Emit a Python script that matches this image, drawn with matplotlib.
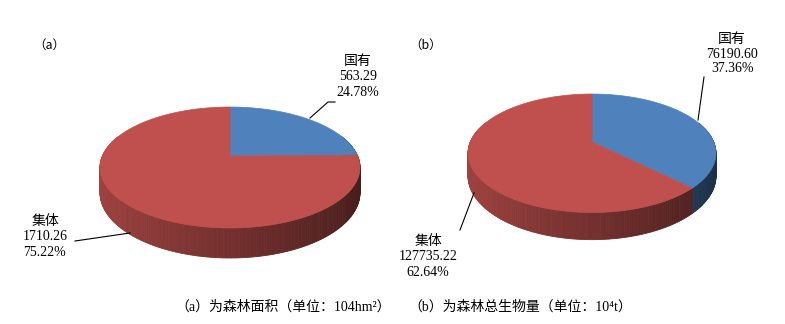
import numpy as np
import matplotlib.pyplot as plt
from matplotlib.patches import Polygon

plt.rcParams['font.family'] = ['Liberation Serif', 'Noto Sans CJK SC', 'DejaVu Serif']
plt.rcParams['font.weight'] = 'light'

# data
categories = ['国有', '集体']
area_values = [563.29, 1710.26]
area_pct = ['24.78%', '75.22%']
biomass_values = [76190.60, 127735.22]
biomass_pct = ['37.36%', '62.64%']
panel_titles = ['（a）', '（b）']
captions = ['（a）为森林面积（单位：104hm²）', '（b）为森林总生物量（单位：10⁴t）']

top_colors = ['#4F81BD', '#C0504D']


def project(u, v, drop, p):
    # simple perspective: front of the pie (v=+1) is nearer to the viewer
    w = 1 - p['k'] * v
    return p['cx'] + p['a'] * u / w, p['cy'] + (p['b'] * v + drop * p['h']) / w


def draw_pie(ax, values, p):
    vals = np.asarray(values, dtype=float)
    edges = np.concatenate([[0], np.cumsum(vals / vals.sum())]) * 2 * np.pi
    strips = []
    for i in range(len(vals)):
        n = max(int(np.degrees(edges[i + 1] - edges[i])), 2)
        t = np.linspace(edges[i], edges[i + 1], n + 1)
        for t0, t1 in zip(t[:-1], t[1:]):
            vm = -np.cos((t0 + t1) / 2)
            if vm < -0.35:
                continue
            um = np.sin((t0 + t1) / 2)
            pts = [project(np.sin(t0), -np.cos(t0), 0, p),
                   project(np.sin(t1), -np.cos(t1), 0, p),
                   project(np.sin(t1), -np.cos(t1), 1, p),
                   project(np.sin(t0), -np.cos(t0), 1, p)]
            f = 0.60 - 0.24 * um
            rgb = np.clip(np.array(plt.matplotlib.colors.to_rgb(top_colors[i])) * f, 0, 1)
            strips.append((vm, pts, rgb))
    strips.sort(key=lambda s: s[0])
    for vm, pts, rgb in strips:
        ax.add_patch(Polygon(pts, closed=True, facecolor=rgb, edgecolor=rgb, lw=0.6))
    # top face
    for i in range(len(vals)):
        t = np.linspace(edges[i], edges[i + 1], 200)
        pts = [project(0, 0, 0, p)] + [project(np.sin(a), -np.cos(a), 0, p) for a in t]
        ax.add_patch(Polygon(pts, closed=True, facecolor=top_colors[i],
                             edgecolor=top_colors[i], lw=0.5))


fig = plt.figure(figsize=(7.85, 3.24), dpi=100)
ax = fig.add_axes([0, 0, 1, 1])
ax.set_xlim(0, 785)
ax.set_ylim(324, 0)
ax.axis('off')

pie_a = dict(cx=230, cy=156, a=127.6, b=58.3, h=24.3, k=0.19)
pie_b = dict(cx=592, cy=142, a=121.7, b=57.1, h=22.0, k=0.19)
draw_pie(ax, area_values, pie_a)
draw_pie(ax, biomass_values, pie_b)

fs = 10
ls = 1.2
# labels for (a)
ax.text(358, 77, f'{categories[0]}\n{area_values[0]:.2f}\n{area_pct[0]}', ha='center', va='center',
        fontsize=fs, linespacing=ls)
ax.text(45, 237, f'{categories[1]}\n{area_values[1]:.2f}\n{area_pct[1]}', ha='center', va='center',
        fontsize=fs, linespacing=ls)
ax.plot([335, 328, 310], [102, 102, 118], color='black', lw=0.8)
ax.plot([75, 130], [241, 233], color='black', lw=0.8)

# labels for (b)
ax.text(732, 54, f'{categories[0]}\n{biomass_values[0]:.2f}\n{biomass_pct[0]}', ha='center', va='center',
        fontsize=fs, linespacing=ls)
ax.text(428, 257, f'{categories[1]}\n{biomass_values[1]:.2f}\n{biomass_pct[1]}', ha='center', va='center',
        fontsize=fs, linespacing=ls)
ax.plot([704, 698], [77, 120], color='black', lw=0.8)
ax.plot([460, 474], [230, 193], color='black', lw=0.8)

cjk = ['Noto Sans CJK SC', 'Liberation Serif']
ax.text(49, 45, panel_titles[0], ha='center', va='center', fontsize=9, family=cjk)
ax.text(426, 45, panel_titles[1], ha='center', va='center', fontsize=9, family=cjk)
ax.text(175, 307, captions[0], ha='left', va='center', fontsize=fs)
ax.text(408, 307, captions[1], ha='left', va='center', fontsize=fs)

fig.savefig('out.png', dpi=100, facecolor='white')
